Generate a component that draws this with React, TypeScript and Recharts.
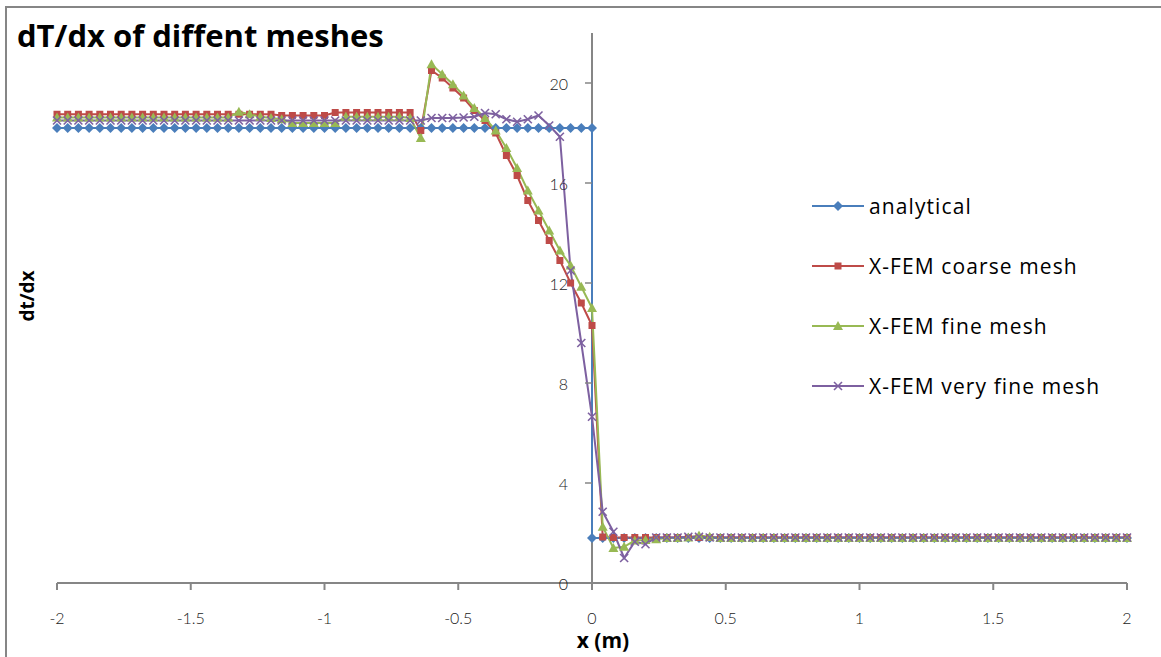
import React from "react";
import { LineChart, Line, XAxis, YAxis, ReferenceLine, Legend } from "recharts";

// mesh node positions (m)
const xs = [
  -2, -1.96, -1.92, -1.88, -1.84, -1.8, -1.76, -1.72, -1.68, -1.64,
  -1.6, -1.56, -1.52, -1.48, -1.44, -1.4, -1.36, -1.32, -1.28, -1.24,
  -1.2, -1.16, -1.12, -1.08, -1.04, -1, -0.96, -0.92, -0.88, -0.84,
  -0.8, -0.76, -0.72, -0.68, -0.64, -0.6, -0.56, -0.52, -0.48, -0.44,
  -0.4, -0.36, -0.32, -0.28, -0.24, -0.2, -0.16, -0.12, -0.08, -0.04,
  0,
  0.04, 0.08, 0.12, 0.16, 0.2, 0.24, 0.28, 0.32, 0.36, 0.4,
  0.44, 0.48, 0.52, 0.56, 0.6, 0.64, 0.68, 0.72, 0.76, 0.8,
  0.84, 0.88, 0.92, 0.96, 1, 1.04, 1.08, 1.12, 1.16, 1.2,
  1.24, 1.28, 1.32, 1.36, 1.4, 1.44, 1.48, 1.52, 1.56, 1.6,
  1.64, 1.68, 1.72, 1.76, 1.8, 1.84, 1.88, 1.92, 1.96, 2,
];

// exact solution: x <= 0 and x >= 0 (jump at the interface)
const analyticalLeft = [
  18.2, 18.2, 18.2, 18.2, 18.2, 18.2, 18.2, 18.2, 18.2, 18.2,
  18.2, 18.2, 18.2, 18.2, 18.2, 18.2, 18.2, 18.2, 18.2, 18.2,
  18.2, 18.2, 18.2, 18.2, 18.2, 18.2, 18.2, 18.2, 18.2, 18.2,
  18.2, 18.2, 18.2, 18.2, 18.2, 18.2, 18.2, 18.2, 18.2, 18.2,
  18.2, 18.2, 18.2, 18.2, 18.2, 18.2, 18.2, 18.2, 18.2, 18.2,
  18.2,
];
const analyticalRight = [
  1.8,
  1.8, 1.8, 1.8, 1.8, 1.8, 1.8, 1.8, 1.8, 1.8, 1.8,
  1.8, 1.8, 1.8, 1.8, 1.8, 1.8, 1.8, 1.8, 1.8, 1.8,
  1.8, 1.8, 1.8, 1.8, 1.8, 1.8, 1.8, 1.8, 1.8, 1.8,
  1.8, 1.8, 1.8, 1.8, 1.8, 1.8, 1.8, 1.8, 1.8, 1.8,
  1.8, 1.8, 1.8, 1.8, 1.8, 1.8, 1.8, 1.8, 1.8, 1.8,
];

const coarse = [
  18.75, 18.75, 18.75, 18.75, 18.75, 18.75, 18.75, 18.75, 18.75, 18.75,
  18.75, 18.75, 18.75, 18.75, 18.75, 18.75, 18.75, 18.75, 18.75, 18.75,
  18.75, 18.7, 18.7, 18.7, 18.7, 18.7, 18.82, 18.82, 18.82, 18.82,
  18.82, 18.82, 18.82, 18.82, 18.1, 20.5, 20.2, 19.8, 19.4, 18.9,
  18.5, 18.0, 17.1, 16.3, 15.3, 14.5, 13.7, 12.9, 12.0, 11.2,
  10.3,
  1.84, 1.82, 1.82, 1.82, 1.82, 1.82, 1.82, 1.82, 1.82, 1.82,
  1.82, 1.82, 1.82, 1.82, 1.82, 1.82, 1.82, 1.82, 1.82, 1.82,
  1.82, 1.82, 1.82, 1.82, 1.82, 1.82, 1.82, 1.82, 1.82, 1.82,
  1.82, 1.82, 1.82, 1.82, 1.82, 1.82, 1.82, 1.82, 1.82, 1.82,
  1.82, 1.82, 1.82, 1.82, 1.82, 1.82, 1.82, 1.82, 1.82, 1.82,
];

const fine = [
  18.62, 18.62, 18.62, 18.62, 18.62, 18.62, 18.62, 18.62, 18.62, 18.62,
  18.62, 18.62, 18.62, 18.62, 18.62, 18.62, 18.62, 18.85, 18.75, 18.65,
  18.6, 18.55, 18.4, 18.4, 18.4, 18.4, 18.4, 18.65, 18.65, 18.65,
  18.65, 18.65, 18.65, 18.6, 17.8, 20.75, 20.35, 19.95, 19.5, 19.0,
  18.6, 18.1, 17.4, 16.6, 15.7, 14.9, 14.1, 13.3, 12.7, 11.85,
  11.0,
  2.25, 1.4, 1.45, 1.7, 1.72, 1.75, 1.8, 1.8, 1.82, 1.9,
  1.85, 1.8, 1.8, 1.8, 1.8, 1.8, 1.8, 1.8, 1.8, 1.8,
  1.8, 1.8, 1.8, 1.8, 1.8, 1.8, 1.8, 1.8, 1.8, 1.8,
  1.8, 1.8, 1.8, 1.8, 1.8, 1.8, 1.8, 1.8, 1.8, 1.8,
  1.8, 1.8, 1.8, 1.8, 1.8, 1.8, 1.8, 1.8, 1.8, 1.8,
];

const veryFine = [
  18.5, 18.5, 18.5, 18.5, 18.5, 18.5, 18.5, 18.5, 18.5, 18.5,
  18.5, 18.5, 18.5, 18.5, 18.5, 18.5, 18.5, 18.5, 18.5, 18.5,
  18.5, 18.5, 18.5, 18.5, 18.5, 18.5, 18.5, 18.5, 18.5, 18.5,
  18.5, 18.5, 18.5, 18.5, 18.5, 18.6, 18.6, 18.6, 18.62, 18.65,
  18.8, 18.75, 18.55, 18.45, 18.55, 18.7, 18.3, 17.85, 12.5, 9.6,
  6.65,
  2.85, 2.05, 1.0, 1.65, 1.55, 1.82, 1.82, 1.82, 1.85, 1.85,
  1.82, 1.82, 1.82, 1.82, 1.82, 1.82, 1.82, 1.82, 1.82, 1.82,
  1.82, 1.82, 1.82, 1.82, 1.82, 1.82, 1.82, 1.82, 1.82, 1.82,
  1.82, 1.82, 1.82, 1.82, 1.82, 1.82, 1.82, 1.82, 1.82, 1.82,
  1.82, 1.82, 1.82, 1.82, 1.82, 1.82, 1.82, 1.82, 1.82, 1.82,
];

const xTicks = [-2, -1.5, -1, -0.5, 0, 0.5, 1, 1.5, 2];
const yTicks = [0, 4, 8, 12, 16, 20];

const BLUE = "#4A7EBB";
const RED = "#BE4B48";
const GREEN = "#98B954";
const PURPLE = "#7D60A0";
const AXIS = "#868686";
const TICK_TEXT = "#1a1a1a";

const W = 1161;
const H = 657;
const MARGIN = { top: 33, right: 34, left: 0, bottom: 0 };
const Y_AXIS_W = 57;
const X_MIN = -2;
const X_MAX = 2;
const PLOT_W = W - MARGIN.right - Y_AXIS_W;
// the value axis sits at x = 0, in the middle of the plot
const ZERO_X = Y_AXIS_W + (PLOT_W * (0 - X_MIN)) / (X_MAX - X_MIN);

const tickFont = "Lato, 'Liberation Sans', sans-serif";
const labelFont = "'Open Sans', 'Noto Sans', sans-serif";

const toPoints = (values: number[], offset = 0) =>
  values.map((y, i) => ({ x: xs[i + offset], y }));

const analyticalData = [
  ...toPoints(analyticalLeft, 0),
  ...toPoints(analyticalRight, 50),
];
const coarseData = toPoints(coarse);
const fineData = toPoints(fine);
const veryFineData = toPoints(veryFine);

type DotProps = { cx?: number; cy?: number; index?: number };

const Diamond = ({ cx = 0, cy = 0 }: DotProps) => (
  <polygon
    points={`${cx},${cy - 5} ${cx + 5},${cy} ${cx},${cy + 5} ${cx - 5},${cy}`}
    fill={BLUE}
  />
);
const Square = ({ cx = 0, cy = 0 }: DotProps) => (
  <rect x={cx - 3.5} y={cy - 3.5} width={7} height={7} fill={RED} />
);
const Triangle = ({ cx = 0, cy = 0 }: DotProps) => (
  <polygon
    points={`${cx},${cy - 5} ${cx + 5},${cy + 4} ${cx - 5},${cy + 4}`}
    fill={GREEN}
  />
);
const Cross = ({ cx = 0, cy = 0 }: DotProps) => (
  <g stroke={PURPLE} strokeWidth={1.6}>
    <line x1={cx - 4} y1={cy - 4} x2={cx + 4} y2={cy + 4} />
    <line x1={cx - 4} y1={cy + 4} x2={cx + 4} y2={cy - 4} />
  </g>
);

const dotFn =
  (Shape: React.FC<DotProps>, name: string) => (p: DotProps) =>
    <Shape key={`${name}-${p.index}`} cx={p.cx} cy={p.cy} />;

const series = [
  { name: "analytical", color: BLUE, Shape: Diamond },
  { name: "X-FEM coarse mesh", color: RED, Shape: Square },
  { name: "X-FEM fine mesh", color: GREEN, Shape: Triangle },
  { name: "X-FEM very fine mesh", color: PURPLE, Shape: Cross },
];

const ValueTick = (props: { y?: number; payload?: { value: number } }) => {
  const y = props.y ?? 0;
  return (
    <g>
      <line x1={ZERO_X - 7} x2={ZERO_X} y1={y} y2={y} stroke={AXIS} strokeWidth={1.5} />
      <text
        x={ZERO_X - 24}
        y={y}
        textAnchor="end"
        dominantBaseline="central"
        fontSize={16}
        fontFamily={tickFont}
        fontWeight={300}
        fill={TICK_TEXT}
      >
        {props.payload?.value}
      </text>
    </g>
  );
};

const LegendBox = () => (
  <div
    style={{ fontFamily: labelFont, fontSize: 21, letterSpacing: 1.1, color: "#000" }}
  >
    {series.map(({ name, color, Shape }) => (
      <div key={name} style={{ display: "flex", alignItems: "center", height: 60 }}>
        <svg width={52} height={14} style={{ marginRight: 5 }}>
          <line x1={0} x2={52} y1={7} y2={7} stroke={color} strokeWidth={2} />
          <Shape cx={26} cy={7} />
        </svg>
        <span>{name}</span>
      </div>
    ))}
  </div>
);

export default function App() {
  return (
    <div
      style={{
        position: "absolute",
        left: 0,
        top: 0,
        width: W,
        height: H,
        overflow: "hidden",
        background: "#fff",
      }}
    >
      <div
        style={{
          position: "absolute",
          left: 5,
          top: 6,
          width: W + 20,
          height: H + 20,
          borderLeft: `2px solid ${AXIS}`,
          borderTop: `2px solid ${AXIS}`,
        }}
      />
      <LineChart width={W} height={H} data={coarseData} margin={MARGIN}>
        <XAxis
          type="number"
          dataKey="x"
          domain={[X_MIN, X_MAX]}
          ticks={xTicks}
          height={74}
          stroke={AXIS}
          strokeWidth={2}
          tickSize={7}
          tickMargin={23}
          tick={{ fontSize: 16, fill: TICK_TEXT, fontFamily: tickFont, fontWeight: 300 }}
        />
        <YAxis
          type="number"
          domain={[0, 22]}
          ticks={yTicks}
          width={Y_AXIS_W}
          axisLine={false}
          tickLine={false}
          tick={(p: any) => <ValueTick key={`yt-${p.index}`} {...p} />}
        />
        <ReferenceLine x={0} stroke={AXIS} strokeWidth={2} />
        <Legend
          layout="vertical"
          align="center"
          verticalAlign="middle"
          content={() => <LegendBox />}
          wrapperStyle={{ left: 812, top: 176, width: 345 }}
        />
        <Line
          data={analyticalData}
          dataKey="y"
          name="analytical"
          stroke={BLUE}
          strokeWidth={2}
          dot={dotFn(Diamond, "a")}
          isAnimationActive={false}
        />
        <Line
          data={coarseData}
          dataKey="y"
          name="X-FEM coarse mesh"
          stroke={RED}
          strokeWidth={2}
          dot={dotFn(Square, "c")}
          isAnimationActive={false}
        />
        <Line
          data={fineData}
          dataKey="y"
          name="X-FEM fine mesh"
          stroke={GREEN}
          strokeWidth={2}
          dot={dotFn(Triangle, "f")}
          isAnimationActive={false}
        />
        <Line
          data={veryFineData}
          dataKey="y"
          name="X-FEM very fine mesh"
          stroke={PURPLE}
          strokeWidth={2}
          dot={dotFn(Cross, "v")}
          isAnimationActive={false}
        />
      </LineChart>
      <div
        style={{
          position: "absolute",
          left: 17,
          top: 17,
          fontFamily: labelFont,
          fontWeight: 700,
          fontSize: 31,
          lineHeight: "36px",
          whiteSpace: "nowrap",
        }}
      >
        dT/dx of diffent meshes
      </div>
      <div
        style={{
          position: "absolute",
          left: 603,
          top: 640,
          transform: "translate(-50%, -50%)",
          fontFamily: labelFont,
          fontWeight: 700,
          fontSize: 21,
          whiteSpace: "nowrap",
        }}
      >
        x (m)
      </div>
      <div
        style={{
          position: "absolute",
          left: 27,
          top: 296,
          transform: "translate(-50%, -50%) rotate(-90deg)",
          fontFamily: labelFont,
          fontWeight: 700,
          fontSize: 19,
          whiteSpace: "nowrap",
        }}
      >
        dt/dx
      </div>
    </div>
  );
}
